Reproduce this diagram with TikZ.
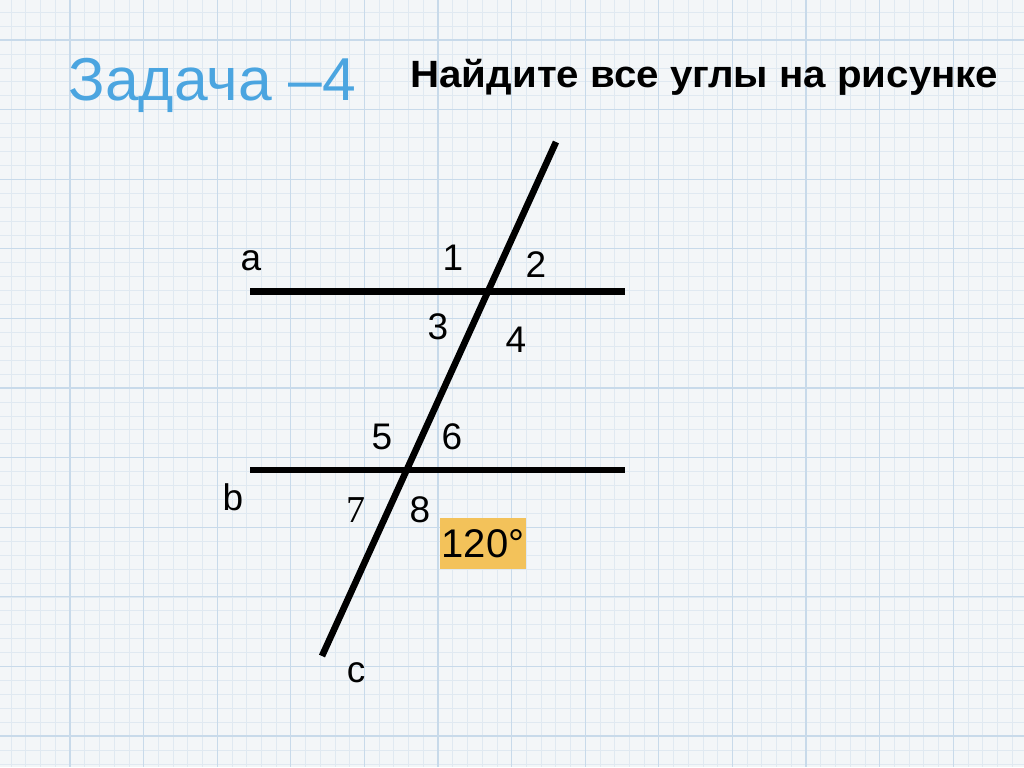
\documentclass[tikz,border=0pt]{standalone}
\usepackage{fontspec}
\setmainfont{Liberation Sans}
\newfontfamily\serifdigit{Liberation Serif}
\newfontfamily\headfont[FakeStretch=1.06]{Liberation Sans}
\usepackage{xcolor}
\definecolor{paper}{HTML}{F3F6F8}
\definecolor{gridminor}{HTML}{E0E9F1}
\definecolor{gridmajor}{HTML}{C8DAEA}
\definecolor{titleblue}{HTML}{4BA5E0}
\definecolor{markgold}{HTML}{F3C25A}
\usetikzlibrary{positioning}

\begin{document}
\begin{tikzpicture}[
  x=0.5pt, y=-0.5pt,
  minor/.style={draw=gridminor, line width=0.35pt},
  major/.style={draw=gridmajor, line width=0.6pt},
  line/.style={line width=3.3pt, black},
  lbl/.style={inner sep=0pt, font=\fontsize{18.5}{20}\selectfont},
  title/.style={inner sep=0pt, anchor=base west, font=\fontsize{30.3}{34}\selectfont, text=titleblue},
  task/.style={inner sep=0pt, anchor=base west, font=\headfont\fontsize{19}{21}\selectfont\bfseries},
  given/.style={fill=markgold, inner sep=0pt, minimum width=43pt, minimum height=25.5pt, font=\fontsize{20}{22}\selectfont},
]
\useasboundingbox (0,0) rectangle (1024,767);

% Graph paper
\fill[paper] (0,0) rectangle (1024,767);
\foreach \i in {0,...,69}
  \draw[minor] ({11.1+14.72*\i},0) -- ++(0,767);
\foreach \j in {0,...,55}
  \draw[minor] (0,{12.2+13.92*\j}) -- ++(1024,0);
\foreach \i in {0,...,14}
  \draw[major] ({-3.6+73.6*\i},0) -- ++(0,767);
\foreach \j in {0,...,10}
  \draw[major] (0,{40+69.6*\j}) -- ++(1024,0);

% Heading
\node[title] (zad) at (68,100) {Задача –4};
\node[task] (find) at (410,87) {Найдите все углы на рисунке};

% Lines
\coordinate (a1) at (250,291.5);
\coordinate (a2) at (625,291.5);
\coordinate (b1) at (250,470);
\coordinate (b2) at (625,470);
\coordinate (c1) at (322,656);
\coordinate (c2) at (556,142);
\draw[line] (a1) -- (a2);
\draw[line] (b1) -- (b2);
\draw[line] (c1) -- (c2);

% Line names
\node[lbl] (la) at (251,261) {a};
\node[lbl] (lb) at (233,497) {b};
\node[lbl] (lc) at (356,673) {c};

% Angle numbers
\node[lbl] (n1) at (453,258) {1};
\node[lbl] (n2) at (536,265) {2};
\node[lbl] (n3) at (438,327) {3};
\node[lbl] (n4) at (516,340) {4};
\node[lbl] (n5) at (382,437) {5};
\node[lbl] (n6) at (452,437) {6};
\node[lbl, font=\fontsize{19}{20}\selectfont\serifdigit] (n7) at (356,510) {7};
\node[lbl] (n8) at (420,510) {8};

% Given angle
\node[given] (val) at (483,543.5) {120°};

\end{tikzpicture}
\end{document}
